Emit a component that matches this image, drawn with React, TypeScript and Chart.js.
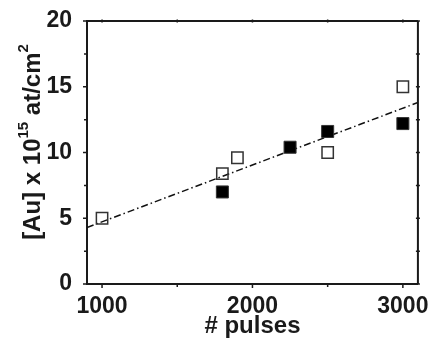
import React, { useEffect, useRef } from "react";
import { Chart, registerables } from "chart.js";

Chart.register(...registerables);

const openX = [1000, 1800, 1900, 2500, 3000];
const openY = [5, 8.4, 9.6, 10, 15];
const filledX = [1800, 2250, 2500, 3000];
const filledY = [7, 10.4, 11.6, 12.2];
const fitX = [900, 3100];
const fitY = [4.3, 13.8];
const xTickValues = [1000, 2000, 3000];
const xMinorValues = [1500, 2500];
const yTickValues = [0, 5, 10, 15, 20];
const yMinorValues = [2.5, 7.5, 12.5, 17.5];
const xTitle = "# pulses";
const yTitleParts = [
  { text: "[Au] x 10", sup: false },
  { text: "15", sup: true },
  { text: " at/cm", sup: false },
  { text: "2", sup: true },
];

const FONT = "'Liberation Sans', Arial, sans-serif";
const AXIS = "#1a1a1a";

const framePlugin = {
  id: "frame",
  afterDraw(chart: any) {
    const { ctx, chartArea } = chart;
    const xs = chart.scales.x;
    const ys = chart.scales.y;
    const { left, right, top, bottom } = chartArea;
    ctx.save();
    ctx.strokeStyle = AXIS;
    ctx.lineWidth = 2;
    ctx.beginPath();
    ctx.moveTo(left, top);
    ctx.lineTo(right, top);
    ctx.moveTo(right, top);
    ctx.lineTo(right, bottom);
    ctx.stroke();
    ctx.lineWidth = 1.5;
    ctx.beginPath();
    const xt = (v: number, major: boolean) => {
      const px = xs.getPixelForValue(v);
      const l = major ? 4 : 3;
      ctx.moveTo(px, bottom);
      ctx.lineTo(px, bottom + l);
      ctx.moveTo(px, top - 1.5);
      ctx.lineTo(px, top + 1.5);
    };
    const yt = (v: number, major: boolean) => {
      const py = ys.getPixelForValue(v);
      const l = major ? 4 : 3;
      ctx.moveTo(left, py);
      ctx.lineTo(left - l, py);
      ctx.moveTo(right - 2, py);
      ctx.lineTo(right + 2, py);
    };
    xTickValues.forEach((v) => xt(v, true));
    xMinorValues.forEach((v) => xt(v, false));
    yTickValues.forEach((v) => yt(v, true));
    yMinorValues.forEach((v) => yt(v, false));
    ctx.stroke();

    // x title
    ctx.fillStyle = AXIS;
    ctx.font = `bold 24px ${FONT}`;
    ctx.textAlign = "center";
    ctx.textBaseline = "alphabetic";
    ctx.fillText(xTitle, (left + right) / 2, 333);

    // y title with superscripts
    const big = `bold 24px ${FONT}`;
    const small = `bold 15px ${FONT}`;
    let total = 0;
    yTitleParts.forEach((p) => {
      ctx.font = p.sup ? small : big;
      total += ctx.measureText(p.text).width;
    });
    ctx.translate(40, 142);
    ctx.rotate(-Math.PI / 2);
    ctx.textAlign = "left";
    let x = -total / 2;
    yTitleParts.forEach((p) => {
      ctx.font = p.sup ? small : big;
      ctx.fillText(p.text, x, p.sup ? -12 : 0);
      x += ctx.measureText(p.text).width;
    });
    ctx.restore();
  },
};

export default function App() {
  const ref = useRef<HTMLCanvasElement | null>(null);
  useEffect(() => {
    if (!ref.current) return;
    const chart = new Chart(ref.current, {
      type: "scatter",
      data: {
        datasets: [
          {
            label: "open",
            data: openX.map((x, i) => ({ x, y: openY[i] })),
            pointStyle: "rect",
            pointRadius: 8,
            backgroundColor: "rgba(255,255,255,0)",
            borderColor: "#333",
            borderWidth: 1.5,
            order: 1,
          },
          {
            label: "filled",
            data: filledX.map((x, i) => ({ x, y: filledY[i] })),
            pointStyle: "rect",
            pointRadius: 8.5,
            backgroundColor: "#000",
            borderColor: "#333",
            borderWidth: 1,
            order: 2,
          },
          {
            label: "fit",
            type: "line",
            data: fitX.map((x, i) => ({ x, y: fitY[i] })),
            borderColor: "#111",
            borderWidth: 1.5,
            borderDash: [7, 3, 1.5, 3],
            pointRadius: 0,
            fill: false,
            order: 3,
          } as any,
        ],
      },
      options: {
        animation: false,
        responsive: true,
        maintainAspectRatio: false,
        layout: { padding: { top: 21, right: 12, left: 0, bottom: 0 } },
        plugins: {
          legend: { display: false },
          tooltip: { enabled: false },
        },
        scales: {
          x: {
            type: "linear",
            min: 900,
            max: 3100,
            afterBuildTicks: (s: any) => {
              s.ticks = xTickValues.map((v) => ({ value: v }));
            },
            afterFit: (s: any) => {
              s.height = 56;
            },
            grid: { display: false },
            border: { display: true, color: AXIS, width: 2 },
            ticks: {
              color: AXIS,
              font: { family: FONT, size: 23, weight: "bold" },
              padding: 1,
              maxRotation: 0,
              callback: (v: any) => String(v),
            },
          },
          y: {
            type: "linear",
            min: 0,
            max: 20,
            afterBuildTicks: (s: any) => {
              s.ticks = yTickValues.map((v) => ({ value: v }));
            },
            afterFit: (s: any) => {
              s.width = 87;
            },
            grid: { display: false },
            border: { display: true, color: AXIS, width: 2 },
            ticks: {
              color: AXIS,
              font: { family: FONT, size: 23, weight: "bold" },
              padding: 7,
              callback: (v: any) => String(v),
            },
          },
        },
      },
      plugins: [framePlugin],
    });
    return () => chart.destroy();
  }, []);
  return (
    <div style={{ position: "fixed", left: 0, top: 0, width: 430, height: 340, background: "#fff" }}>
      <canvas ref={ref} />
    </div>
  );
}
